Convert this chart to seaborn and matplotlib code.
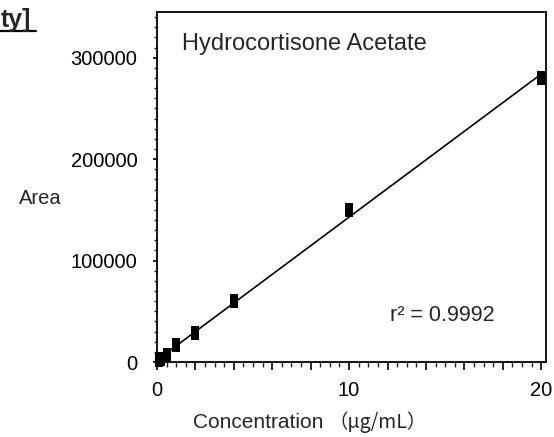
import numpy as np
import pandas as pd
import matplotlib
matplotlib.use("Agg")
import matplotlib.pyplot as plt
from matplotlib.ticker import MultipleLocator, FixedLocator, FuncFormatter
from matplotlib.lines import Line2D
import seaborn as sns

# ---- data ----
concentration = [0.1, 0.2, 0.5, 1, 2, 4, 10, 20]
area = [1500, 3000, 7000, 17000, 29000, 60000, 150000, 280000]
title_text = "ty]"
compound = "Hydrocortisone Acetate"
r2_text = "r\u00b2 = 0.9992"
x_ticks = [0, 10, 20]
y_ticks = [0, 100000, 200000, 300000]

df = pd.DataFrame({"conc": concentration, "area": area})

sns.set_style("ticks")
plt.rcParams["font.family"] = ["Liberation Sans", "Noto Sans CJK JP", "DejaVu Sans"]

W, H = 554, 437
fig = plt.figure(figsize=(W / 100, H / 100), dpi=100)
L, R, B, T = 157, 546, 362, 12
ax = fig.add_axes([L / W, 1 - B / H, (R - L) / W, (B - T) / H])

rect = [(-0.5, -1), (0.5, -1), (0.5, 1), (-0.5, 1), (-0.5, -1)]
sns.regplot(data=df, x="conc", y="area", ax=ax, ci=None, marker=rect,
            scatter_kws={"s": 115, "color": "black", "alpha": 1, "linewidths": 0,
                         "zorder": 3, "clip_on": False},
            line_kws={"color": "black", "linewidth": 1.2, "zorder": 2})

ax.set_xlim(0, 20.25)
ax.set_ylim(0, 345000)

# x ticks: majors every 2 (labels only at 0/10/20), minors every 0.5
ax.xaxis.set_major_locator(MultipleLocator(2))
ax.xaxis.set_minor_locator(MultipleLocator(0.5))
ax.xaxis.set_major_formatter(FuncFormatter(lambda v, p: f"{int(round(v))}" if int(round(v)) in x_ticks else ""))
ax.yaxis.set_major_locator(FixedLocator(y_ticks))
ax.yaxis.set_minor_locator(MultipleLocator(10000))
ax.yaxis.set_major_formatter(FuncFormatter(lambda v, p: f"{int(v)}"))

ax.tick_params(axis="x", which="major", direction="out", length=6, width=1.2, pad=8, labelsize=14.5, colors="black")
ax.tick_params(axis="x", which="minor", direction="out", length=3.5, width=1.0)
ax.tick_params(axis="y", which="major", direction="out", length=3, width=1.2, pad=11, labelsize=14.5, colors="black")
ax.tick_params(axis="y", which="minor", direction="out", length=2, width=1.0)

for s in ax.spines.values():
    s.set_visible(True)
    s.set_linewidth(1.3)
    s.set_color("black")

ax.set_xlabel("")
ax.set_ylabel("")

# labels
fig.text(62 / W, 1 - 199 / H, "Area", ha="right", va="center", fontsize=14.5)
fig.text(193 / W, 1 - 428 / H, "Concentration", ha="left", va="baseline", fontsize=15)
fig.text(329 / W, 1 - 428 / H, "\uff08\u03bcg/mL\uff09", ha="left", va="baseline", fontsize=14,
         family=["Noto Sans CJK JP", "DejaVu Sans"])
fig.text(182 / W, 1 - 50 / H, compound, ha="left", va="baseline", fontsize=17)
fig.text(390 / W, 1 - 321 / H, r2_text, ha="left", va="baseline", fontsize=15.5)

fig.text(1 / W, 1 - 27 / H, title_text, ha="left", va="baseline", fontsize=18, weight="bold")
fig.add_artist(Line2D([0, 36 / W], [1 - 31 / H, 1 - 31 / H], color="black", linewidth=1.6,
                      transform=fig.transFigure))

fig.savefig("out.png", dpi=100)
